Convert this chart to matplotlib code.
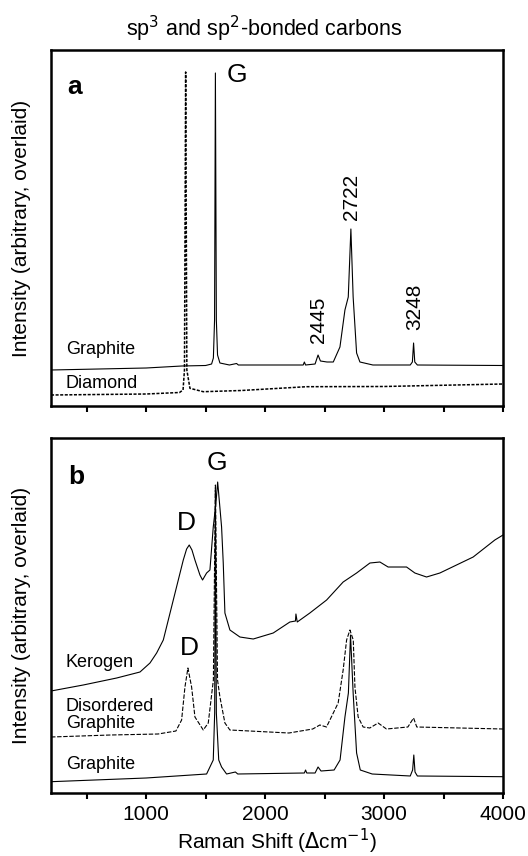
import numpy as np
import matplotlib.pyplot as plt

plt.rcParams['font.family'] = ['Liberation Sans', 'DejaVu Sans']

# ---- panel a : graphite and diamond ----
graf_a_x = [200, 1000, 1300, 1500, 1550, 1565, 1575, 1582, 1590, 1600, 1620, 1700,
            1760, 1775, 2000, 2320, 2330, 2340, 2420, 2445, 2465, 2520, 2573, 2629,
            2671, 2699, 2721, 2740, 2769, 2797, 2906, 3220, 3238, 3248, 3258, 3280, 4000]
graf_a_y = [36, 38, 40, 40.5, 42, 48, 86, 333, 86, 51, 43, 41,
            42.5, 41, 41, 41, 44, 41, 42, 51, 45, 44, 44, 59,
            96, 109, 177, 109, 53, 44, 41, 41, 44, 63, 44, 41, 40.5]

diam_x = [200, 1000, 1280, 1310, 1322, 1332, 1342, 1368, 1480, 1800, 2349, 3000, 4000]
diam_y = [11, 12, 13.5, 16, 36, 334, 36, 17.7, 14.3, 15.5, 19.3, 19.5, 22]

# ---- panel b : kerogen, disordered graphite, graphite ----
ker_x = [200, 471, 752, 948, 1032, 1088, 1144, 1186, 1228, 1270, 1312, 1340, 1362,
         1385, 1410, 1452, 1474, 1508, 1536, 1564, 1585, 1601, 1618, 1634, 1648,
         1662, 1704, 1788, 1900, 2068, 2208, 2255, 2259, 2270, 2376, 2517, 2656,
         2769, 2881, 2965, 3034, 3189, 3259, 3357, 3469, 3609, 3749, 3931, 4000]
ker_y = [102, 108, 115, 121, 130, 140, 153, 173, 193, 213, 233, 244, 248,
         243, 233, 218, 213, 220, 223, 266, 288, 311, 288, 266, 230,
         180, 163, 156, 154, 160, 171, 172, 179, 171, 180, 193, 211,
         220, 230, 231, 226, 226, 220, 216, 220, 228, 236, 253, 258]

dis_x = [200, 700, 1100, 1250, 1298, 1326, 1351, 1382, 1410, 1480, 1522, 1565, 1582,
         1600, 1620, 1662, 1704, 2200, 2400, 2460, 2516, 2614, 2656, 2685, 2713,
         2741, 2755, 2782, 2824, 2880, 2950, 3020, 3200, 3248, 3275, 4000]
dis_y = [56, 58, 59, 62, 73, 106, 125, 106, 76, 63, 70, 113, 308,
         113, 96, 70, 63, 60, 64, 68, 66, 90, 123, 153, 163,
         153, 106, 76, 66, 65, 70, 64, 66, 75, 66, 64]

graf_b_x = [200, 1000, 1508, 1564, 1576, 1582, 1590, 1610, 1634, 1676, 1750, 1770,
            2330, 2340, 2350, 2420, 2445, 2470, 2580, 2630, 2671, 2700, 2718, 2740,
            2769, 2800, 2900, 3220, 3240, 3250, 3260, 3280, 4000]
graf_b_y = [11.3, 15, 19, 33, 80, 303, 80, 33, 26, 19, 21, 19,
            20, 23, 20, 20, 26, 22, 23, 33, 76, 100, 158, 100,
            40, 23, 19, 17, 23, 38, 21, 17, 16.3]

xticks = [500, 1000, 1500, 2000, 2500, 3000, 3500, 4000]
xtick_labels = ['', '1000', '', '2000', '', '3000', '', '4000']

fig = plt.figure(figsize=(5.28, 8.56), dpi=100)
ax_a = fig.add_axes([0.0966, 0.5257, 0.8561, 0.4159])
ax_b = fig.add_axes([0.0966, 0.0736, 0.8561, 0.4147])

lw = 0.8
ax_a.plot(graf_a_x, graf_a_y, color='black', lw=lw)
ax_a.plot(diam_x, diam_y, color='black', lw=1.1, linestyle=(0, (2, 1)))

ax_b.plot(ker_x, ker_y, color='black', lw=lw)
ax_b.plot(dis_x, dis_y, color='black', lw=lw, linestyle=(0, (4, 1.5)))
ax_b.plot(graf_b_x, graf_b_y, color='black', lw=lw)

for ax in (ax_a, ax_b):
    ax.set_xlim(200, 4000)
    ax.set_yticks([])
    ax.set_xticks(xticks)
    ax.tick_params(axis='x', direction='out', length=4, width=1.5, labelsize=15, pad=5)
    for s in ax.spines.values():
        s.set_linewidth(1.8)
    ax.set_ylabel('Intensity (arbitrary, overlaid)', fontsize=15)
    ax.yaxis.set_label_coords(-0.045, 0.5)

ax_a.set_ylim(0, 356)
ax_b.set_ylim(0, 355)
ax_a.set_xticklabels([])
ax_b.set_xticklabels(xtick_labels)
ax_b.set_xlabel('Raman Shift ($\\Delta$cm$^{-1}$)', fontsize=15, labelpad=2)

fig.text(0.5, 0.966, 'sp$^3$ and sp$^2$-bonded carbons', ha='center', va='center', fontsize=15.5)

# panel a labels
ax_a.text(402, 319, 'a', fontsize=19, fontweight='bold', ha='center', va='center')
ax_a.text(1763, 331, 'G', fontsize=19, ha='center', va='center')
ax_a.text(326, 56, 'Graphite', fontsize=13, ha='left', va='center')
ax_a.text(326, 23, 'Diamond', fontsize=13, ha='left', va='center')
ax_a.text(2449, 63, '2445', fontsize=15, rotation=90, ha='center', va='bottom')
ax_a.text(2727, 186, '2722', fontsize=15, rotation=90, ha='center', va='bottom')
ax_a.text(3259, 76, '3248', fontsize=15, rotation=90, ha='center', va='bottom')

# panel b labels
ax_b.text(410, 316, 'b', fontsize=19, fontweight='bold', ha='center', va='center')
ax_b.text(1595, 330, 'G', fontsize=19, ha='center', va='center')
ax_b.text(1340, 270, 'D', fontsize=19, ha='center', va='center')
ax_b.text(1360, 145, 'D', fontsize=19, ha='center', va='center')
ax_b.text(326, 131, 'Kerogen', fontsize=13, ha='left', va='center')
ax_b.text(326, 78, 'Disordered\nGraphite', fontsize=13, ha='left', va='center', linespacing=1.0)
ax_b.text(326, 28, 'Graphite', fontsize=13, ha='left', va='center')

fig.savefig('out.png', dpi=100)
